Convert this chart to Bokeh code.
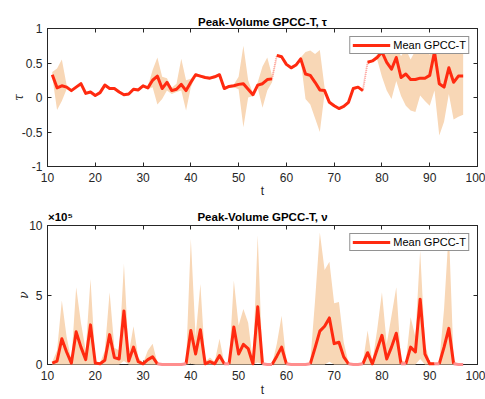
from bokeh.plotting import figure
from bokeh.layouts import column
from bokeh.models import LinearAxis, FixedTicker, Range1d
from bokeh.embed import file_html
from bokeh.resources import INLINE

# ---------------- data ----------------
t = list(range(11, 98))

tau_mean = [0.33, 0.14, 0.17, 0.15, 0.10, 0.15, 0.20, 0.06, 0.08, 0.03,
            0.07, 0.18, 0.13, 0.13, 0.08, 0.04, 0.05, 0.12, 0.11, 0.17,
            0.14, 0.25, 0.31, 0.13, 0.22, 0.10, 0.12, 0.19, 0.10, 0.22,
            0.33, 0.31, 0.29, 0.28, 0.30, 0.33, 0.13, 0.16, 0.17, 0.19,
            0.20, 0.12, 0.04, 0.18, 0.20, 0.26, 0.27, 0.61, 0.59, 0.48,
            0.43, 0.47, 0.56, 0.34, 0.32, 0.22, 0.11, 0.10, -0.07, -0.12,
            -0.16, -0.13, -0.07, 0.13, 0.15, 0.10, 0.51, 0.53, 0.58, 0.66,
            0.51, 0.41, 0.58, 0.29, 0.34, 0.26, 0.26, 0.28, 0.28, 0.32,
            0.66, 0.20, 0.15, 0.43, 0.22, 0.31, 0.31]
tau_lower = [0.30, -0.18, -0.05, 0.12, 0.08, 0.13, 0.18, 0.04, 0.06, 0.01,
             0.05, 0.16, 0.11, 0.11, 0.06, 0.02, 0.03, 0.10, 0.09, 0.15,
             0.12, 0.15, -0.10, -0.02, 0.10, 0.05, 0.08, 0.10, -0.19, 0.15,
             0.31, 0.29, 0.27, 0.26, 0.28, 0.31, 0.11, 0.14, 0.15, 0.12,
             -0.43, 0.00, 0.02, 0.14, -0.15, 0.10, 0.22, 0.59, 0.57, 0.46,
             0.41, 0.45, 0.54, -0.02, -0.10, -0.30, -0.50, 0.06, -0.09, -0.14,
             -0.18, -0.15, -0.09, 0.11, 0.13, 0.08, 0.49, 0.51, 0.55, 0.30,
             0.10, -0.02, 0.24, 0.02, -0.12, -0.19, -0.21, 0.03, -0.05, -0.12,
             0.10, -0.55, -0.35, 0.05, -0.32, -0.28, -0.25]
tau_upper = [0.37, 0.42, 0.55, 0.18, 0.12, 0.17, 0.22, 0.08, 0.10, 0.05,
             0.09, 0.20, 0.15, 0.15, 0.10, 0.06, 0.07, 0.14, 0.13, 0.19,
             0.16, 0.40, 0.58, 0.30, 0.28, 0.14, 0.20, 0.56, 0.25, 0.27,
             0.35, 0.33, 0.31, 0.30, 0.32, 0.35, 0.15, 0.18, 0.19, 0.30,
             0.75, 0.25, 0.06, 0.22, 0.45, 0.58, 0.32, 0.63, 0.61, 0.50,
             0.45, 0.49, 0.58, 0.66, 0.68, 0.63, 0.69, 0.14, -0.05, -0.10,
             -0.14, -0.11, -0.05, 0.15, 0.17, 0.12, 0.53, 0.55, 0.62, 0.72,
             0.70, 0.66, 0.72, 0.60, 0.70, 0.55, 0.68, 0.70, 0.68, 0.62,
             0.85, 0.70, 0.65, 0.68, 0.68, 0.68, 0.66]
tau_gaps = [(57, 58), (76, 77)]

# nu values in units of 1e5
nu_mean = [0.10, 0.25, 1.85, 0.90, 0.10, 2.35, 1.25, 0.35, 2.85, 0.10,
           0.05, 0.30, 2.15, 0.50, 0.40, 3.85, 0.25, 1.25, 0.20, 0.05,
           0.35, 0.55, 0.05, 0.00, 0.00, 0.00, 0.00, 0.00, 0.05, 2.45,
           0.75, 2.50, 0.05, 0.20, 0.05, 0.65, 0.05, 0.05, 2.70, 0.75,
           1.45, 1.15, 0.05, 4.15, 0.05, 0.00, 0.00, 0.60, 1.25, 0.05,
           0.00, 0.00, 0.00, 0.00, 0.05, 1.20, 2.40, 2.75, 3.35, 1.50,
           1.60, 0.55, 0.05, 0.00, 0.00, 0.05, 0.85, 0.05, 1.10, 2.10,
           0.40, 1.25, 2.25, 0.05, 0.05, 1.25, 0.90, 4.70, 0.75, 0.05,
           0.05, 0.05, 1.25, 2.60, 0.05, 0.00, 0.00]
nu_lower = [0.00, 0.00, 0.00, 0.00, 0.00, 0.00, 0.00, 0.00, 0.00, 0.00,
            0.00, 0.00, 0.00, 0.00, 0.00, 0.25, 0.00, 0.00, 0.00, 0.00,
            0.00, 0.00, 0.00, 0.00, 0.00, 0.00, 0.00, 0.00, 0.00, 0.05,
            0.00, 0.00, 0.00, 0.00, 0.00, 0.00, 0.00, 0.00, 0.00, 0.00,
            0.00, 0.00, 0.00, 0.15, 0.00, 0.00, 0.00, 0.00, 0.00, 0.00,
            0.00, 0.00, 0.00, 0.00, 0.00, 0.00, 0.00, 0.00, 0.20, 0.00,
            0.00, 0.00, 0.00, 0.00, 0.00, 0.00, 0.00, 0.00, 0.00, 0.00,
            0.00, 0.00, 0.00, 0.00, 0.00, 0.00, 0.00, 0.40, 0.00, 0.00,
            0.00, 0.00, 0.00, 0.00, 0.00, 0.00, 0.00]
nu_upper = [0.20, 1.00, 4.60, 2.00, 0.30, 5.55, 3.00, 1.00, 6.15, 0.30,
            0.10, 1.00, 5.20, 1.20, 1.00, 7.25, 0.80, 2.75, 0.50, 0.10,
            1.00, 1.50, 0.10, 0.00, 0.00, 0.00, 0.00, 0.00, 0.10, 9.05,
            2.00, 5.80, 0.20, 0.50, 0.20, 1.85, 0.10, 0.10, 6.05, 2.80,
            4.00, 3.00, 0.20, 9.30, 0.20, 0.00, 0.00, 1.50, 3.50, 0.20,
            0.00, 0.00, 0.00, 0.00, 0.20, 4.60, 9.50, 6.80, 7.40, 4.40,
            4.50, 1.60, 0.10, 0.00, 0.00, 0.10, 2.45, 0.20, 2.50, 5.20,
            1.50, 3.50, 5.55, 0.30, 0.20, 3.40, 2.00, 8.20, 1.50, 0.20,
            0.10, 0.20, 4.00, 9.70, 0.30, 0.00, 0.00]
nu_gaps = [(33, 39), (47, 48), (55, 57), (60, 65), (73, 76), (84, 85), (91, 92), (95, 97)]

x_ticks = [10, 20, 30, 40, 50, 60, 70, 80, 90, 100]
tau_ticks = [-1, -0.5, 0, 0.5, 1]
tau_tick_labels = ["-1", "-0.5", "0", "0.5", "1"]
nu_ticks = [0, 5, 10]
nu_tick_labels = ["0", "5", "10"]
nu_exponent = "×10⁵"

legend_text = "Mean GPCC-T"
title_tau = "Peak-Volume GPCC-T, τ"
title_nu = "Peak-Volume GPCC-T, ν"

# ---------------- style ----------------
FONT = "Liberation Sans"
AX = "#262626"
BAND = "#F8D7B6"
RED = "#FF2A10"
PINK = "#FF8E8E"
TITLE_X = 55      # title centred over the frame
EXP_X = 12.7      # x position (data units) of the exponent text centre


def runs(tt, vv, gaps, want_gap):
    out = []
    cur = None
    for i in range(len(tt) - 1):
        g = any(a <= tt[i] and tt[i + 1] <= b for a, b in gaps)
        if g == want_gap:
            if cur is None:
                cur = ([tt[i]], [vv[i]])
            cur[0].append(tt[i + 1])
            cur[1].append(vv[i + 1])
        else:
            if cur:
                out.append(cur)
            cur = None
    if cur:
        out.append(cur)
    return [r[0] for r in out], [r[1] for r in out]


def style_axis(ax, ticks, labels, show_labels=True):
    ax.ticker = FixedTicker(ticks=ticks)
    ax.major_label_overrides = {k: v for k, v in zip(ticks, labels)}
    ax.axis_line_color = AX
    ax.major_tick_line_color = AX
    ax.major_tick_in = 4
    ax.major_tick_out = 0
    ax.minor_tick_line_color = None
    ax.major_label_text_font = FONT
    ax.major_label_text_color = AX
    if show_labels:
        ax.major_label_text_font_size = "12px"
    else:
        ax.major_label_text_font_size = "0px"
        ax.major_label_standoff = 0


def text_axis(ticks, texts, size, standoff, bold=True):
    a = LinearAxis(ticker=FixedTicker(ticks=ticks),
                   major_label_overrides={k: v for k, v in zip(ticks, texts)})
    a.axis_line_color = None
    a.major_tick_line_color = None
    a.minor_tick_line_color = None
    a.major_tick_in = 0
    a.major_tick_out = 0
    a.major_label_standoff = standoff
    a.major_label_text_font = FONT
    a.major_label_text_font_size = size
    a.major_label_text_font_style = "bold" if bold else "normal"
    a.major_label_text_color = "black"
    return a


def make_fig(height, btop, bbot, yr, yticks, ylabels, ylab, title_ticks, title_texts,
             ylab_standoff, title_standoff, spacer, xlab_standoff):
    p = figure(width=485, height=height, x_range=Range1d(10, 100), y_range=Range1d(*yr),
               output_backend="svg", toolbar_location=None,
               min_border_left=47, min_border_right=8,
               min_border_top=btop, min_border_bottom=bbot)
    p.grid.visible = False
    p.outline_line_color = AX
    style_axis(p.xaxis[0], x_ticks, [str(v) for v in x_ticks])
    style_axis(p.yaxis[0], yticks, ylabels)
    p.xaxis[0].major_label_standoff = 6
    p.xaxis[0].axis_label = "t"
    p.xaxis[0].axis_label_standoff = xlab_standoff
    p.yaxis[0].axis_label = ylab
    p.yaxis[0].axis_label_standoff = ylab_standoff
    for ax in (p.xaxis[0], p.yaxis[0]):
        ax.axis_label_text_font = FONT
        ax.axis_label_text_font_size = "12px"
        ax.axis_label_text_color = AX
        ax.axis_label_text_font_style = "normal"
    p.yaxis[0].axis_label_text_font = "DejaVu Serif"
    p.yaxis[0].axis_label_text_font_style = "italic"
    # mirrored tick marks on top and right (box on)
    top = LinearAxis()
    style_axis(top, x_ticks, [""] * len(x_ticks), show_labels=False)
    p.add_layout(top, "above")
    right = LinearAxis()
    style_axis(right, yticks, [""] * len(yticks), show_labels=False)
    p.add_layout(right, "right")
    # title line (title text, and exponent where present)
    p.add_layout(text_axis(title_ticks, title_texts, "11.5px", title_standoff), "above")
    if spacer:
        p.add_layout(text_axis([TITLE_X], [" "], "1px", spacer, bold=False), "above")
    return p


def legend_style(p):
    lg = p.legend[0]
    lg.location = "top_right"
    lg.margin = 8
    lg.padding = 2
    lg.spacing = 0
    lg.label_text_font = FONT
    lg.label_text_font_size = "11px"
    lg.label_text_color = "black"
    lg.label_height = 12
    lg.glyph_height = 12
    lg.glyph_width = 38
    lg.label_standoff = 3
    lg.border_line_color = AX
    lg.border_line_width = 1
    lg.background_fill_alpha = 1


# ---------------- top plot ----------------
p1 = make_fig(200, 28, 34, (-1, 1), tau_ticks, tau_tick_labels, "τ",
              [TITLE_X], [title_tau], -7, 1, 3, -1)
p1.varea(x=t, y1=tau_lower, y2=tau_upper, fill_color=BAND, fill_alpha=1)
rx, ry = runs(t, tau_mean, tau_gaps, False)
gx, gy = runs(t, tau_mean, tau_gaps, True)
p1.multi_line(gx, gy, line_color="#FFA5A5", line_width=2, line_dash="1 1")
p1.multi_line(rx, ry, line_color=RED, line_width=3, line_join="round",
              legend_label=legend_text)
legend_style(p1)

# ---------------- bottom plot ----------------
p2 = make_fig(199, 25, 35, (0, 10), nu_ticks, nu_tick_labels, "ν",
              [EXP_X, TITLE_X], [nu_exponent, title_nu], -5, 3, 0, 0)
band2 = p2.varea(x=t, y1=nu_lower, y2=nu_upper, fill_color=BAND, fill_alpha=1)
rx2, ry2 = runs(t, nu_mean, nu_gaps, False)
gx2, gy2 = runs(t, nu_mean, nu_gaps, True)
red2 = p2.multi_line(rx2, ry2, line_color=RED, line_width=3, line_join="round",
                     legend_label=legend_text)
pink2 = p2.multi_line(gx2, gy2, line_color=PINK, line_width=3)
for r in (band2, red2, pink2):
    r.level = "overlay"
legend_style(p2)

layout = column(p1, p2)
open("out.html", "w").write(file_html(layout, INLINE))
